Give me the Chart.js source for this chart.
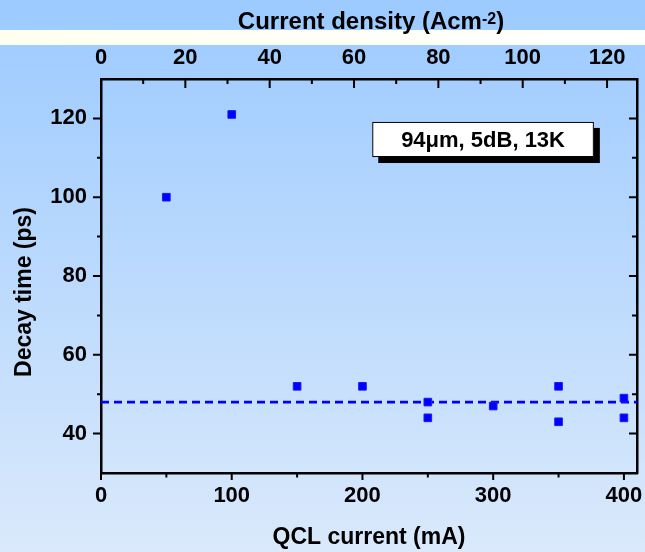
<!DOCTYPE html>
<html>
<head>
<meta charset="utf-8">
<title>Decay time vs QCL current</title>
<script src="https://cdn.jsdelivr.net/npm/chart.js@4.4.1/dist/chart.umd.min.js"></script>
<style>
  html, body { margin: 0; padding: 0; background: #bcd9fd; }
  #wrap { width: 645px; height: 552px; }
</style>
</head>
<body>
<div id="wrap"><canvas id="decayChart" width="645" height="552"></canvas></div>
<script>
// Measured decay times (ps) against QCL drive current (mA)
const currentMA = [50, 100, 150, 200, 250, 250, 300, 350, 350, 400, 400];
const decayPs = [100, 121, 52, 52, 48, 44, 47, 52, 43, 49, 44];
const meanDecayPs = 48;

// Axis ranges and tick steps
const currentRange = [0, 410];
const decayRange = [30, 130];
const densityPerMA = 0.31; // A/cm^2 per mA for the top axis
const currentTicks = [0, 100, 200, 300, 400];
const densityTicks = [0, 20, 40, 60, 80, 100, 120];
const decayTicks = [40, 60, 80, 100, 120];

const noteText = '94\u03bcm, 5dB, 13K';
const noteBox = { x0: 207.5, x1: 377, y0: 119.1, y1: 110.2 };

const FONT = 'Liberation Sans, Arial, Helvetica, sans-serif';
const tickFont = { family: FONT, size: 22, weight: 'bold', lineHeight: 1.2 };
const titleFont = { family: FONT, size: 23, weight: 'bold', lineHeight: 1.2 };

// Background gradient and the light band across the top
const backdrop = {
  id: 'backdrop',
  beforeDraw(chart) {
    const { ctx, width, height } = chart;
    ctx.save();
    const g = ctx.createLinearGradient(0, 0, 0, height);
    g.addColorStop(0, '#9ccaff');
    g.addColorStop(1, '#dae9fb');
    ctx.fillStyle = g;
    ctx.fillRect(0, 0, width, height);
    const band = ctx.createLinearGradient(0, 0, width, 0);
    band.addColorStop(0, '#fffff0');
    band.addColorStop(1, '#ffffff');
    ctx.fillStyle = band;
    ctx.fillRect(0, 30, width, 15);
    ctx.restore();
  },
};

// Major/minor tick marks on all four sides
const tickMarks = {
  id: 'tickMarks',
  afterDraw(chart) {
    const { ctx, chartArea: a, scales } = chart;
    ctx.save();
    ctx.strokeStyle = '#000';
    ctx.lineWidth = 2;
    ctx.beginPath();
    scales.x.ticks.forEach((t) => {
      const px = scales.x.getPixelForValue(t.value);
      const len = currentTicks.includes(t.value) ? 7 : 4.5;
      ctx.moveTo(px, a.bottom);
      ctx.lineTo(px, a.bottom + len);
    });
    scales.x2.ticks.forEach((t) => {
      const px = scales.x2.getPixelForValue(t.value);
      const len = densityTicks.includes(t.value) ? 9 : 5;
      ctx.moveTo(px, a.top);
      ctx.lineTo(px, a.top + len);
    });
    scales.y.ticks.forEach((t) => {
      if (t.value <= decayRange[0] || t.value >= decayRange[1]) return;
      const py = scales.y.getPixelForValue(t.value);
      const major = decayTicks.includes(t.value);
      ctx.moveTo(a.left, py);
      ctx.lineTo(a.left - (major ? 8 : 4), py);
      ctx.moveTo(a.right, py);
      ctx.lineTo(a.right - (major ? 8 : 5), py);
    });
    ctx.stroke();
    ctx.restore();
  },
};

// Top axis title with a raised exponent
const topTitle = {
  id: 'topTitle',
  afterDraw(chart) {
    const { ctx, chartArea: a } = chart;
    const base = 'Current density (Acm';
    const sup = '-2';
    const tail = ')';
    ctx.save();
    ctx.fillStyle = '#000';
    ctx.textBaseline = 'alphabetic';
    ctx.font = `bold 24px ${FONT}`;
    const wBase = ctx.measureText(base).width;
    const wTail = ctx.measureText(tail).width;
    ctx.font = `bold 16px ${FONT}`;
    const wSup = ctx.measureText(sup).width;
    let x = (a.left + a.right) / 2 - (wBase + wSup + wTail) / 2 + 2;
    ctx.textAlign = 'left';
    ctx.font = `bold 24px ${FONT}`;
    ctx.fillText(base, x, 29);
    x += wBase;
    ctx.font = `bold 16px ${FONT}`;
    ctx.fillText(sup, x, 24);
    x += wSup;
    ctx.font = `bold 24px ${FONT}`;
    ctx.fillText(tail, x, 29);
    ctx.restore();
  },
};

// Label box with drop shadow
const noteLabel = {
  id: 'noteLabel',
  afterDatasetsDraw(chart) {
    const { ctx, scales } = chart;
    const l = scales.x.getPixelForValue(noteBox.x0);
    const r = scales.x.getPixelForValue(noteBox.x1);
    const t = scales.y.getPixelForValue(noteBox.y0);
    const b = scales.y.getPixelForValue(noteBox.y1);
    ctx.save();
    ctx.fillStyle = '#000';
    ctx.fillRect(l + 6, t + 6, r - l, b - t);
    ctx.fillStyle = '#fff';
    ctx.fillRect(l, t, r - l, b - t);
    ctx.strokeStyle = '#000';
    ctx.lineWidth = 1;
    ctx.strokeRect(l + 0.5, t + 0.5, r - l - 1, b - t - 1);
    ctx.fillStyle = '#000';
    ctx.font = `bold 22px ${FONT}`;
    ctx.textAlign = 'center';
    ctx.textBaseline = 'middle';
    ctx.fillText(noteText, (l + r) / 2, (t + b) / 2 + 1);
    ctx.restore();
  },
};

function fixSize(prop, size) {
  return (scale) => {
    scale[prop] = size;
    scale.paddingLeft = scale.paddingRight = 0;
    scale.paddingTop = scale.paddingBottom = 0;
  };
}

const axisBorder = { display: true, color: '#000', width: 2.5 };
const noGrid = { display: false, drawTicks: false };

const ctx = document.getElementById('decayChart').getContext('2d');
new Chart(ctx, {
  type: 'scatter',
  data: {
    datasets: [
      {
        label: 'Decay time',
        data: currentMA.map((c, i) => ({ x: c, y: decayPs[i] })),
        pointStyle: 'rect',
        pointRadius: 5.4,
        pointBackgroundColor: '#0000ff',
        pointBorderColor: '#1a1aff',
        pointBorderWidth: 1,
      },
      {
        label: 'Mean',
        data: [
          { x: currentRange[0], y: meanDecayPs },
          { x: currentRange[1], y: meanDecayPs },
        ],
        showLine: true,
        pointRadius: 0,
        borderColor: '#0000ff',
        borderWidth: 2.8,
        borderDash: [8, 5],
      },
    ],
  },
  options: {
    responsive: false,
    animation: false,
    layout: { padding: 0 },
    plugins: { legend: { display: false }, tooltip: { enabled: false } },
    scales: {
      x: {
        type: 'linear',
        position: 'bottom',
        min: currentRange[0],
        max: currentRange[1],
        grid: noGrid,
        border: axisBorder,
        ticks: {
          stepSize: 50,
          includeBounds: false,
          autoSkip: false,
          maxRotation: 0,
          padding: 10,
          color: '#000',
          font: tickFont,
          callback: (v) => (currentTicks.includes(v) ? v : ''),
        },
        title: {
          display: true,
          text: 'QCL current (mA)',
          color: '#000',
          font: titleFont,
          padding: { top: 0, bottom: 1 },
        },
        afterFit: fixSize('height', 79),
      },
      x2: {
        type: 'linear',
        position: 'top',
        min: currentRange[0] * densityPerMA,
        max: currentRange[1] * densityPerMA,
        grid: noGrid,
        border: axisBorder,
        ticks: {
          stepSize: 10,
          includeBounds: false,
          autoSkip: false,
          maxRotation: 0,
          padding: 8,
          color: '#000',
          font: tickFont,
          callback: (v) => (densityTicks.includes(v) ? v : ''),
        },
        afterFit: fixSize('height', 79),
      },
      y: {
        type: 'linear',
        position: 'left',
        min: decayRange[0],
        max: decayRange[1],
        grid: noGrid,
        border: axisBorder,
        ticks: {
          stepSize: 10,
          includeBounds: false,
          autoSkip: false,
          padding: 14,
          color: '#000',
          font: tickFont,
          callback: (v) => (decayTicks.includes(v) ? v : ''),
        },
        title: {
          display: true,
          text: 'Decay time (ps)     ',
          color: '#000',
          font: titleFont,
          padding: { top: 11, bottom: 0 },
        },
        afterFit: fixSize('width', 101),
      },
      y2: {
        type: 'linear',
        position: 'right',
        min: decayRange[0],
        max: decayRange[1],
        grid: noGrid,
        border: axisBorder,
        ticks: { display: false, stepSize: 10 },
        afterFit: fixSize('width', 8),
      },
    },
  },
  plugins: [backdrop, tickMarks, topTitle, noteLabel],
});
</script>
</body>
</html>
